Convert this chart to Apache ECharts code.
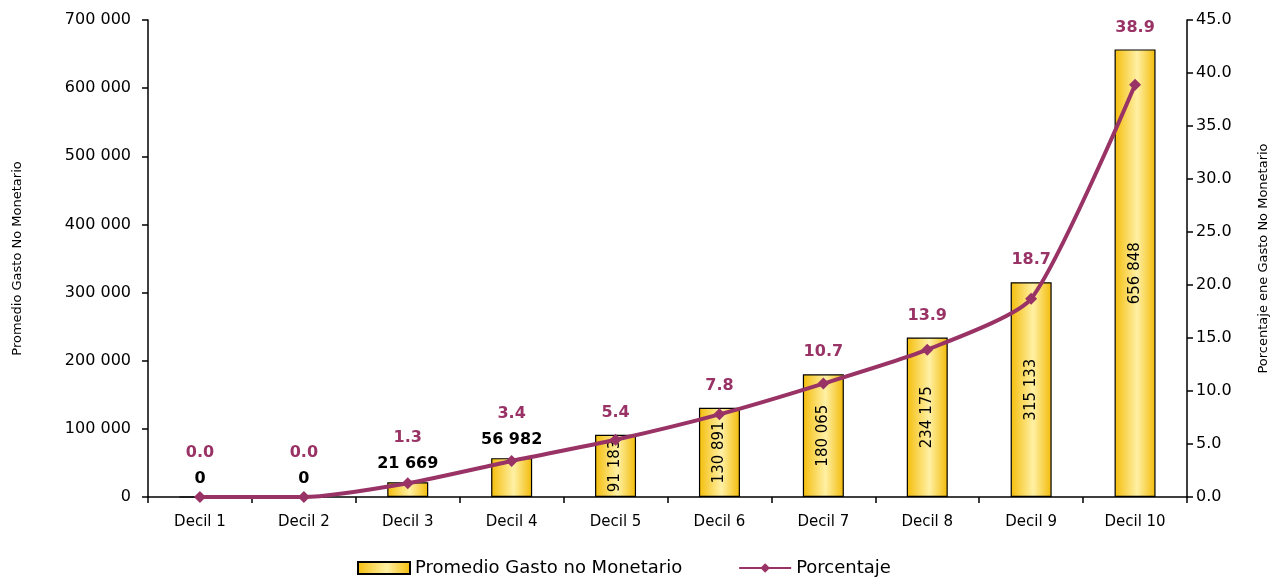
<!DOCTYPE html>
<html>
<head>
<meta charset="utf-8">
<script src="https://cdn.jsdelivr.net/npm/echarts@6/dist/echarts.min.js"></script>
<style>
html,body{margin:0;padding:0;background:#fff;overflow:hidden;}
#chart{width:1272px;height:578px;}
</style>
</head>
<body>
<div id="chart"></div>
<script>
var categories = ['Decil 1','Decil 2','Decil 3','Decil 4','Decil 5','Decil 6','Decil 7','Decil 8','Decil 9','Decil 10'];
var gastoValues = [0, 0, 21669, 56982, 91183, 130891, 180065, 234175, 315133, 656848];
var porcentaje = [0.0, 0.0, 1.3, 3.4, 5.4, 7.8, 10.7, 13.9, 18.7, 38.9];
var seriesNames = ['Promedio Gasto no Monetario', 'Porcentaje'];
var leftAxisName = 'Promedio Gasto No Monetario';
var rightAxisName = 'Porcentaje ene Gasto No Monetario';

var FONT = 'DejaVu Sans';
var PURPLE = '#993366';

function fmtSpace(v) {
  return String(Math.round(v)).replace(/\B(?=(\d{3})+(?!\d))/g, ' ');
}

var barGradient = new echarts.graphic.LinearGradient(0, 0, 1, 0, [
  {offset: 0, color: '#F4BD0A'},
  {offset: 0.55, color: '#FFF0A4'},
  {offset: 1, color: '#F2BB08'}
]);

var chart = echarts.init(document.getElementById('chart'), null, {renderer: 'canvas'});

chart.setOption({
  animation: false,
  backgroundColor: '#ffffff',
  grid: {left: 148, right: 85, top: 20, bottom: 81, containLabel: false, outerBoundsMode: 'none'},
  legend: {
    data: [{name: seriesNames[0], icon: 'rect'}, {name: seriesNames[1]}],
    left: 352,
    top: 554,
    itemWidth: 52,
    itemHeight: 12,
    itemGap: 56,
    textStyle: {fontFamily: FONT, fontSize: 18, color: '#000'}
  },
  xAxis: {
    type: 'category',
    data: categories,
    axisLine: {lineStyle: {color: '#000', width: 1.5}},
    axisTick: {show: true, alignWithLabel: false, length: 6, lineStyle: {color: '#000', width: 1.5}},
    axisLabel: {fontFamily: FONT, fontSize: 15, color: '#000', margin: 18}
  },
  yAxis: [{
    type: 'value',
    min: 0, max: 700000, interval: 100000,
    name: leftAxisName,
    nameLocation: 'middle',
    nameRotate: 90,
    nameGap: 124,
    nameTextStyle: {fontFamily: FONT, fontSize: 13, color: '#000'},
    axisLine: {show: true, lineStyle: {color: '#000', width: 1.5}},
    axisTick: {show: true, length: 6, lineStyle: {color: '#000', width: 1.5}},
    splitLine: {show: false},
    axisLabel: {fontFamily: FONT, fontSize: 16, color: '#000', margin: 17, formatter: function (v) { return fmtSpace(v); }}
  }, {
    type: 'value',
    min: 0, max: 45, interval: 5,
    name: rightAxisName,
    nameLocation: 'middle',
    nameRotate: 90,
    nameGap: 70,
    nameTextStyle: {fontFamily: FONT, fontSize: 13, color: '#000'},
    axisLine: {show: true, lineStyle: {color: '#000', width: 1.5}},
    axisTick: {show: true, length: 6, lineStyle: {color: '#000', width: 1.5}},
    splitLine: {show: false},
    axisLabel: {fontFamily: FONT, fontSize: 16, color: '#000', margin: 9, formatter: function (v) { return v.toFixed(1); }}
  }],
  series: [{
    name: seriesNames[0],
    type: 'bar',
    yAxisIndex: 0,
    barWidth: 41,
    data: gastoValues,
    itemStyle: {color: barGradient, borderColor: '#000', borderWidth: 1.2},
    label: {
      show: true,
      position: 'inside',
      rotate: 90,
      fontFamily: FONT,
      fontSize: 15,
      color: '#000',
      formatter: function (p) { return p.dataIndex >= 4 ? fmtSpace(p.value) : ''; }
    },
    z: 2
  }, {
    name: 'labels',
    type: 'bar',
    yAxisIndex: 0,
    barWidth: 41,
    barGap: '-100%',
    data: gastoValues,
    silent: true,
    itemStyle: {color: 'rgba(0,0,0,0)'},
    label: {
      show: true,
      position: 'top',
      distance: 7,
      formatter: function (p) {
        var pct = '{p|' + porcentaje[p.dataIndex].toFixed(1) + '}';
        if (p.dataIndex < 4) return pct + '\n{v|' + fmtSpace(p.value) + '}';
        return pct;
      },
      rich: {
        p: {fontFamily: FONT, fontSize: 16, fontWeight: 'bold', color: PURPLE, lineHeight: 30},
        v: {fontFamily: FONT, fontSize: 16, fontWeight: 'bold', color: '#000', lineHeight: 22}
      }
    },
    z: 1
  }, {
    name: seriesNames[1],
    type: 'line',
    yAxisIndex: 1,
    data: porcentaje,
    smooth: 0.2,
    symbol: 'diamond',
    symbolSize: 12,
    lineStyle: {color: PURPLE, width: 4},
    itemStyle: {color: PURPLE},
    z: 5
  }]
});
</script>
</body>
</html>
